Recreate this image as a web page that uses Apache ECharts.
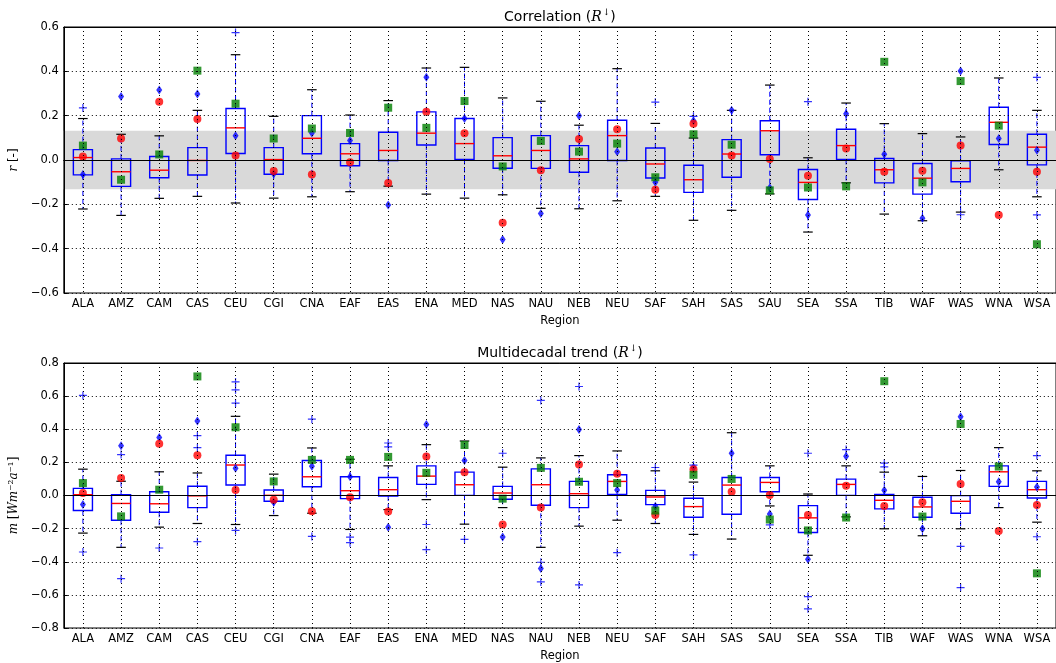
<!DOCTYPE html>
<html><head><meta charset="utf-8">
<script src="https://cdn.jsdelivr.net/npm/echarts@6/dist/echarts.min.js"></script>
<style>html,body{margin:0;padding:0;background:#fff}#c{width:1056px;height:663px}</style>
</head><body><div id="c"></div><script>
const regions = ['ALA','AMZ','CAM','CAS','CEU','CGI','CNA','EAF','EAS','ENA','MED','NAS','NAU','NEB','NEU','SAF','SAH','SAS','SAU','SEA','SSA','TIB','WAF','WAS','WNA','WSA'];

// ---- Correlation panel ----
const corrLow  = [-0.221,-0.250,-0.173,-0.164,-0.194,-0.172,-0.166,-0.143,-0.118,-0.154,-0.172,-0.157,-0.218,-0.220,-0.184,-0.164,-0.272,-0.227,-0.153,-0.325,-0.103,-0.244,-0.274,-0.235,-0.044,-0.166];
const corrQ1   = [-0.067,-0.119,-0.080,-0.068,0.029,-0.064,0.028,-0.026,-0.002,0.068,0.002,-0.037,-0.038,-0.055,-0.002,-0.081,-0.146,-0.078,0.024,-0.178,0.002,-0.103,-0.154,-0.098,0.070,-0.022];
const corrMed  = [0.011,-0.053,-0.046,-0.002,0.145,0.002,0.098,0.028,0.043,0.121,0.074,0.019,0.043,0.005,0.110,-0.018,-0.089,0.027,0.132,-0.101,0.065,-0.044,-0.082,-0.038,0.170,0.058];
const corrQ3   = [0.047,0.005,0.016,0.056,0.232,0.056,0.200,0.074,0.125,0.217,0.187,0.101,0.110,0.065,0.179,0.054,-0.024,0.092,0.177,-0.043,0.139,0.007,-0.016,-0.004,0.238,0.116];
const corrHigh = [0.187,0.116,0.109,0.224,0.475,0.197,0.317,0.203,0.268,0.415,0.418,0.280,0.265,0.157,0.412,0.165,0.099,0.224,0.338,0.010,0.257,0.164,0.119,0.104,0.370,0.224];
const corrRed   = [0.016,0.097,0.263,0.185,0.020,-0.050,-0.065,-0.010,-0.104,0.218,0.121,-0.283,-0.046,0.095,0.139,-0.134,0.164,0.020,0.005,-0.071,0.052,-0.053,-0.049,0.065,-0.248,-0.053];
const corrGreen = [0.065,-0.089,0.025,0.403,0.254,0.097,0.142,0.122,0.236,0.145,0.266,-0.029,0.086,0.038,0.074,-0.078,0.116,0.069,-0.137,-0.124,-0.119,0.443,-0.101,0.356,0.155,-0.380];
const corrBlue  = [-0.065,0.287,0.316,0.298,0.109,-0.062,0.122,0.088,-0.203,0.373,0.187,-0.359,-0.241,0.200,0.037,-0.100,0.177,0.224,-0.125,-0.248,0.209,0.026,-0.263,0.401,0.097,0.044];
const corrOutliers = [['ALA',0.235],['CEU',0.575],['SAF',0.261],['SAH',0.197],['SEA',0.263],['WAS',-0.247],['WSA',0.373],['WSA',-0.248]];
const corrBand = [-0.132, 0.132];

// ---- Multidecadal trend panel ----
const trendLow  = [-0.227,-0.313,-0.191,-0.169,-0.175,-0.121,-0.107,-0.205,-0.085,-0.025,-0.173,-0.073,-0.313,-0.185,-0.149,-0.169,-0.235,-0.263,-0.063,-0.361,-0.129,-0.201,-0.243,-0.201,-0.073,-0.161];
const trendQ1   = [-0.091,-0.149,-0.101,-0.073,0.063,-0.035,0.053,-0.019,-0.003,0.067,0.001,-0.023,-0.059,-0.073,0.007,-0.055,-0.131,-0.113,0.023,-0.223,0.001,-0.081,-0.131,-0.107,0.055,-0.015];
const trendMed  = [0.005,-0.048,-0.050,-0.002,0.184,0.001,0.113,0.029,0.035,0.117,0.065,0.015,0.065,0.011,0.085,-0.009,-0.067,0.063,0.079,-0.135,0.067,-0.029,-0.069,-0.035,0.143,0.035];
const trendQ3   = [0.043,0.005,0.023,0.056,0.243,0.033,0.211,0.113,0.109,0.179,0.141,0.055,0.161,0.085,0.125,0.031,-0.017,0.109,0.109,-0.061,0.099,0.007,-0.011,-0.001,0.179,0.085];
const trendHigh = [0.159,0.086,0.143,0.136,0.478,0.129,0.287,0.219,0.179,0.307,0.329,0.171,0.227,0.241,0.269,0.149,0.081,0.379,0.179,0.009,0.179,0.141,0.115,0.151,0.289,0.149];
const trendRed   = [0.015,0.105,0.312,0.243,0.033,-0.025,-0.095,-0.011,-0.097,0.235,0.141,-0.175,-0.073,0.187,0.131,-0.117,0.159,0.022,0.003,-0.117,0.059,-0.063,-0.041,0.069,-0.215,-0.057];
const trendGreen = [0.075,-0.126,0.035,0.719,0.412,0.085,0.215,0.215,0.233,0.137,0.305,-0.019,0.167,0.083,0.075,-0.091,0.125,0.100,-0.145,-0.211,-0.133,0.690,-0.127,0.432,0.175,-0.470];
const trendBlue  = [-0.055,0.300,0.350,0.450,0.165,-0.041,0.177,0.113,-0.191,0.429,0.211,-0.251,-0.440,0.399,0.033,-0.065,0.169,0.255,-0.111,-0.385,0.237,0.031,-0.201,0.476,0.083,0.051];
const trendOutliers = [['ALA',0.604],['ALA',-0.341],['AMZ',0.247],['AMZ',-0.502],['CAM',-0.317],['CAS',0.361],['CAS',0.289],['CAS',-0.279],
  ['CEU',0.686],['CEU',0.638],['CEU',0.558],['CEU',-0.211],['CNA',0.461],['CNA',-0.247],['EAF',-0.251],['EAF',-0.285],['EAS',0.317],['EAS',0.293],
  ['ENA',-0.175],['ENA',-0.327],['MED',-0.265],['NAS',0.255],['NAU',0.574],['NAU',-0.403],['NAU',-0.522],['NEB',0.658],['NEB',-0.540],['NEU',-0.345],
  ['SAF',0.169],['SAH',0.183],['SAH',-0.359],['SAU',-0.177],['SEA',0.255],['SEA',-0.610],['SEA',-0.684],['SSA',0.277],['TIB',0.195],['TIB',0.173],
  ['WAS',-0.307],['WAS',-0.556],['WSA',0.241],['WSA',-0.249]];

const FONT = 'DejaVu Sans';
const SERIF = 'DejaVu Serif';

function boxRender(params, api) {
  const x = api.value(0);
  const lo = api.coord([x, api.value(1)]);
  const q1 = api.coord([x, api.value(2)]);
  const md = api.coord([x, api.value(3)]);
  const q3 = api.coord([x, api.value(4)]);
  const hi = api.coord([x, api.value(5)]);
  const bw = api.size([1, 0])[0];
  const half = bw * 0.25, cap = bw * 0.125, cx = lo[0];
  const wh = {stroke:'#0000ff', lineWidth:1, lineDash:[5,3]};
  const cp = {stroke:'#000', lineWidth:1.2};
  return {type:'group', children:[
    {type:'line', shape:{x1:cx,y1:q3[1],x2:cx,y2:hi[1]}, style:wh},
    {type:'line', shape:{x1:cx,y1:q1[1],x2:cx,y2:lo[1]}, style:wh},
    {type:'line', shape:{x1:cx-cap,y1:hi[1],x2:cx+cap,y2:hi[1]}, style:cp},
    {type:'line', shape:{x1:cx-cap,y1:lo[1],x2:cx+cap,y2:lo[1]}, style:cp},
    {type:'rect', shape:{x:cx-half,y:q3[1],width:2*half,height:q1[1]-q3[1]}, style:{fill:'none',stroke:'#0000ff',lineWidth:1.4}},
    {type:'line', shape:{x1:cx-half,y1:md[1],x2:cx+half,y2:md[1]}, style:{stroke:'#ff0000',lineWidth:1.4}}
  ]};
}

function boxData(lo,q1,md,q3,hi){ return regions.map((r,i)=>[i,lo[i],q1[i],md[i],q3[i],hi[i]]); }
function pts(arr){ return regions.map((r,i)=>[r,arr[i]]); }

const PLUS = 'path://M0,5L10,5M5,0L5,10';
function markerSeries(gi, red, green, blue, outl){
  return [
    {type:'scatter', xAxisIndex:gi*2, yAxisIndex:gi, data:outl, symbol:PLUS, symbolSize:8, z:3,
     itemStyle:{color:'rgba(0,0,0,0)', borderColor:'#0000ff', borderWidth:1.2}, silent:true},
    {type:'scatter', xAxisIndex:gi*2, yAxisIndex:gi, data:pts(blue), symbol:'diamond', symbolSize:[6,9], z:4,
     itemStyle:{color:'#0000ff'}, silent:true},
    {type:'scatter', xAxisIndex:gi*2, yAxisIndex:gi, data:pts(red), symbol:'circle', symbolSize:8, z:5,
     itemStyle:{color:'#ff0000'}, silent:true},
    {type:'scatter', xAxisIndex:gi*2, yAxisIndex:gi, data:pts(green), symbol:'rect', symbolSize:8, z:6,
     itemStyle:{color:'#008000'}, silent:true}
  ];
}

const dotted = {color:'#000', width:1, type:[1,3]};
const tickLbl = {color:'#000', fontSize:11.5, fontFamily:FONT};
function xBottom(gi){
  return {gridIndex:gi, type:'category', data:regions, position:'bottom', boundaryGap:true, z:10,
    axisLine:{lineStyle:{color:'#000', width:1}},
    axisTick:{inside:true, alignWithLabel:true, interval:0, length:4, lineStyle:{color:'#000'}},
    axisLabel:Object.assign({interval:0, margin:5}, tickLbl),
    splitLine:{show:true, alignWithLabel:true, interval:0, lineStyle:dotted},
    name:'Region', nameLocation:'middle', nameGap:22, nameTextStyle:{color:'#000', fontSize:11.5, fontFamily:FONT}};
}
function xTop(gi, title){
  return {gridIndex:gi, type:'category', data:regions, position:'top', boundaryGap:true, z:10,
    axisLine:{lineStyle:{color:'#000', width:1}},
    axisTick:{inside:true, alignWithLabel:true, interval:0, length:4, lineStyle:{color:'#000'}},
    axisLabel:{show:false}, splitLine:{show:false},
    name:title, nameLocation:'middle', nameGap:1,
    nameTextStyle:{rich:{
      t:{fontSize:14, fontFamily:FONT, color:'#000'},
      i:{fontSize:14, fontFamily:SERIF, fontStyle:'italic', color:'#000'},
      s:{fontSize:9, fontFamily:SERIF, color:'#000', padding:[0,0,9,1]}
    }}};
}
function yAxis(gi, min, max, name){
  return {gridIndex:gi, type:'value', min:min, max:max, interval:0.2, z:10,
    axisLine:{show:true, lineStyle:{color:'#000', width:1}},
    axisTick:{show:true, inside:true, length:4, lineStyle:{color:'#000'}},
    axisLabel:Object.assign({margin:5, formatter:v=>(Math.round(v*10)/10).toFixed(1).replace('-','\u2212')}, tickLbl),
    splitLine:{show:true, lineStyle:dotted},
    name:name, nameLocation:'middle', nameRotate:90, nameGap:32,
    nameTextStyle:{rich:{
      n:{fontSize:12, fontFamily:FONT, color:'#000'},
      i:{fontSize:12, fontFamily:SERIF, fontStyle:'italic', color:'#000'},
      r:{fontSize:12, fontFamily:SERIF, color:'#000'}
    }}};
}

const option = {
  animation:false,
  backgroundColor:'#fff',
  grid:[
    {left:60, top:27, width:1001, height:266, show:true, borderColor:'#000', borderWidth:1, backgroundColor:'rgba(0,0,0,0)'},
    {left:60, top:363, width:1001, height:267, show:true, borderColor:'#000', borderWidth:1, backgroundColor:'rgba(0,0,0,0)'}
  ],
  xAxis:[xBottom(0), xTop(0,'{t|Correlation (}{i|R}{s|\u2193}{t|)}'), xBottom(1), xTop(1,'{t|Multidecadal trend (}{i|R}{s|\u2193}{t|)}')],
  yAxis:[yAxis(0,-0.6,0.6,'{i|r}{n| [-]}'), yAxis(1,-0.8,0.8,'{i|m}{r| [}{i|Wm}{r|\u207B\u00B2}{i|a}{r|\u207B\u00B9}{r|]}')],
  series:[
    {type:'custom', xAxisIndex:0, yAxisIndex:0, renderItem:boxRender, data:boxData(corrLow,corrQ1,corrMed,corrQ3,corrHigh),
     encode:{x:0, y:[1,2,3,4,5]}, z:2, silent:true,
     markArea:{silent:true, itemStyle:{color:'#d9d9d9'}, data:[[{yAxis:corrBand[0]},{yAxis:corrBand[1]}]]}},
    ...markerSeries(0, corrRed, corrGreen, corrBlue, corrOutliers),
    {type:'custom', xAxisIndex:2, yAxisIndex:1, renderItem:boxRender, data:boxData(trendLow,trendQ1,trendMed,trendQ3,trendHigh),
     encode:{x:0, y:[1,2,3,4,5]}, z:2, silent:true},
    ...markerSeries(1, trendRed, trendGreen, trendBlue, trendOutliers)
  ]
};
const chart = echarts.init(document.getElementById('c'), null, {renderer:'canvas'});
chart.setOption(option);
</script></body></html>
